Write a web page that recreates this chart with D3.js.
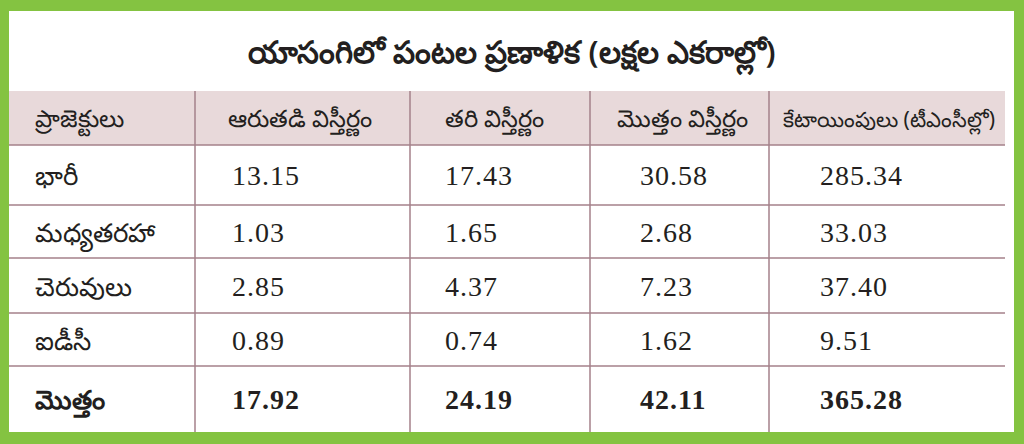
<!DOCTYPE html>
<html><head><meta charset="utf-8">
<script src="https://cdn.jsdelivr.net/npm/d3@7"></script>
<style>body{margin:0;background:#84c341}</style>
</head><body><svg id="chart" width="1024" height="444"></svg>
<script>
// Table data
const title = "యాసంగిలో పంటల ప్రణాళిక (లక్షల ఎకరాల్లో)";
const headers = ["ప్రాజెక్టులు", "ఆరుతడి విస్తీర్ణం", "తరి విస్తీర్ణం", "మొత్తం విస్తీర్ణం", "కేటాయింపులు (టీఎంసీల్లో)"];
const projects = ["భారీ", "మధ్యతరహా", "చెరువులు", "ఐడీసీ", "మొత్తం"];
const dryArea = ["13.15", "1.03", "2.85", "0.89", "17.92"];
const wetArea = ["17.43", "1.65", "4.37", "0.74", "24.19"];
const totalArea = ["30.58", "2.68", "7.23", "1.62", "42.11"];
const allocation = ["285.34", "33.03", "37.40", "9.51", "365.28"];

const columns = [projects, dryArea, wetArea, totalArea, allocation];
const svg = d3.select("#chart");
const line = "#a4808a";

svg.append("rect").attr("x", 9).attr("y", 11).attr("width", 1005).attr("height", 421).attr("fill", "#fff");

// column edges and text x positions
const colX = [9, 195, 410, 590, 769, 1005];
const textX = [35, 232, 445, 640, 820];
const headX = [35, 228, 445, 617, 783];
const headSize = [24, 24, 24, 24, 21];
const rowY = [91, 145, 205, 258, 313, 366, 432];

svg.append("rect").attr("x", 9).attr("y", rowY[0]).attr("width", 996).attr("height", rowY[1] - rowY[0]).attr("fill", "#e8d9da");

svg.append("text").attr("x", 512).attr("y", 63).attr("text-anchor", "middle")
  .attr("font-family", "Noto Sans").attr("font-size", 31).attr("font-weight", 600).attr("fill", "#231f20").text(title);

rowY.slice(1, 6).forEach(y => svg.append("line").attr("x1", 9).attr("x2", 1005).attr("y1", y).attr("y2", y).attr("stroke", line).attr("stroke-width", 1.5));
colX.slice(1, 5).forEach(x => svg.append("line").attr("x1", x).attr("x2", x).attr("y1", rowY[0]).attr("y2", 432).attr("stroke", line).attr("stroke-width", 1.5));

headers.forEach((h, i) => svg.append("text").attr("x", headX[i]).attr("y", 127)
  .attr("font-family", "Noto Sans").attr("font-size", headSize[i]).attr("fill", "#231f20").text(h));

columns.forEach((col, c) => col.forEach((v, r) => {
  const bold = r === col.length - 1;
  svg.append("text").attr("x", textX[c]).attr("y", (rowY[r + 1] + rowY[r + 2]) / 2 + 10)
    .attr("font-family", c === 0 ? "Noto Sans" : "Liberation Serif")
    .attr("font-size", c === 0 ? 26 : 28).attr("font-weight", bold ? "bold" : "normal")
    .attr("letter-spacing", c === 0 ? 0 : 1)
    .attr("fill", "#231f20").text(v);
}));
</script></body></html>
